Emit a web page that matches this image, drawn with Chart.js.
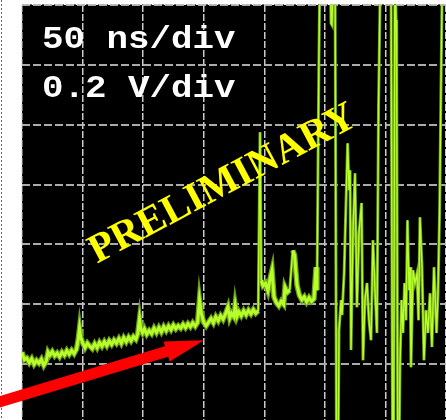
<!DOCTYPE html>
<html>
<head>
<meta charset="utf-8">
<script src="https://cdn.jsdelivr.net/npm/chart.js@4/dist/chart.umd.min.js"></script>
<style>
    html, body { margin: 0; padding: 0; background: #fff; overflow: hidden; }
    #wrap { position: relative; width: 446px; height: 426px; }
</style>
</head>
<body>
<div id="wrap"><canvas id="scope"></canvas></div>
<script>
// time axis in ns (50 ns/div), voltage in V (0.2 V/div)
const xTicks = [0, 50, 100, 150, 200, 250, 300, 350]
const yTicks = [-0.2, 0, 0.2, 0.4, 0.6, 0.8, 1.0, 1.2]

const timeLabel = '50 ns/div'
const voltLabel = '0.2 V/div'
const stampText = 'PRELIMINARY'

// trace: time (ns)
const traceT = [
    0, 2, 4, 6, 8, 10, 12, 14, 16, 18, 20,
    21.5, 23, 25, 27, 29, 31, 33, 35, 37, 39, 41, 43, 45,
    46.5, 47.5, 48.5, 50, 52, 54, 56, 58, 60, 62, 64, 66, 68, 70, 72, 74, 76, 78, 80, 82, 84, 86, 88, 90, 92, 94,
    95.5, 97, 98, 99.5, 101, 103, 105, 107, 109, 111, 113, 115, 117, 119, 121, 123, 125, 127, 129, 131, 133, 135, 137, 139, 141, 143, 145,
    146.5, 148, 150, 152, 154, 156, 158, 160, 162, 164, 166, 168, 170, 171.5, 173, 175, 176, 177.5, 179, 181, 183, 185, 187, 189, 191, 193, 195,
    196.5, 197.5, 199, 201, 203, 205, 206.4, 208, 210, 212, 214, 216, 217.1, 219, 221, 223.5, 225, 227, 229, 231, 233, 235, 237, 239, 241,
    242.7, 243.5, 244.3, 245, 246, 254.3, 255.1, 255.9, 256.8, 258.4, 259.6, 260.9,
    261.7, 263.4, 264.2, 265.9, 267.5, 268.8, 270, 270.8, 271.6, 273.2, 274.9, 276.5, 278.2, 280.3, 281.5, 283.1, 284.8, 286.4, 288.1,
    289.7, 291.4, 293, 294.3, 296, 304.6, 305.9, 306.8, 307.8, 308.8, 309.3, 310.2, 311.2,
    312, 313.3, 314.5, 315.8, 317, 318.2, 319.5, 320.3, 321.1, 322.8, 324.4, 326.1, 327.3, 328.5, 330.2, 331.8, 333.5, 335.1, 336.8,
    338.4, 340.1, 342.2, 343.4, 344.7, 345.9, 347.1, 350
]

// trace: voltage (V)
const traceV = [
    0.04, 0.015, 0.02, 0.005, 0.018, 0.0, 0.012, 0.003, 0.016, -0.004, 0.01,
    0.04, 0.03, 0.042, 0.028, 0.037, 0.025, 0.04, 0.03, 0.045, 0.033, 0.046, 0.035, 0.05,
    0.085, 0.12, 0.09, 0.072, 0.055, 0.07, 0.06, 0.052, 0.068, 0.055, 0.072, 0.06, 0.075, 0.062, 0.078, 0.066, 0.08, 0.07, 0.085, 0.07, 0.088, 0.075, 0.09, 0.078, 0.092, 0.083,
    0.1, 0.15, 0.118, 0.105, 0.118, 0.1, 0.112, 0.102, 0.12, 0.106, 0.122, 0.108, 0.125, 0.112, 0.127, 0.115, 0.13, 0.118, 0.128, 0.12, 0.133, 0.122, 0.135, 0.125, 0.138, 0.127, 0.14,
    0.215, 0.17, 0.14, 0.128, 0.14, 0.152, 0.138, 0.158, 0.145, 0.162, 0.15, 0.168, 0.19, 0.155, 0.17, 0.158, 0.197, 0.16, 0.175, 0.162, 0.178, 0.165, 0.18, 0.168, 0.182, 0.17, 0.178,
    0.775, 0.28, 0.262, 0.27, 0.245, 0.29, 0.314, 0.225, 0.205, 0.195, 0.21, 0.2, 0.257, 0.24, 0.248, 0.38, 0.364, 0.264, 0.23, 0.215, 0.225, 0.208, 0.222, 0.21, 0.218,
    0.324, 0.247, 0.638, 0.98, 1.35, 1.35, 1.139, 1.133, 1.35, 1.35, -0.32, -0.32,
    0.114, 0.214, 0.164, 0.304, 0.548, 0.738, 0.581, 0.648, 0.047, 0.438, 0.638, 0.19, 0.438, 0.538, 0.013, 0.214, 0.271, 0.147, 0.08,
    0.414, 0.247, 0.104, 0.859, 1.35, 1.35, -0.32, -0.32, 1.35, 1.15, 0.939, -0.32, -0.32,
    -0.01, 0.214, 0.104, 0.271, 0.147, 0.481, 0.247, 0.324, -0.01, 0.314, 0.271, 0.304, 0.147, 0.491, 0.324, 0.013, 0.18, 0.104, 0.237,
    0.057, 0.324, 0.104, 0.237, 0.505, 0.939, 1.35, 1.35
]

// red arrow annotation: tail and tip in (ns, V)
const arrowTail = [-20, -0.128]
const arrowTip = [150.2, 0.08]

const points = traceT.map((t, i) => ({ x: t, y: traceV[i] }))

// noisy baseline is drawn thick, fast swings thin
const isNoise = c => c.p0.parsed.x < 244 && Math.abs(c.p1.parsed.y - c.p0.parsed.y) < 0.12

const screenPlugin = {
    id: 'screen',
    beforeDraw(chart) {
        const { ctx, chartArea: a } = chart
        ctx.save()
        ctx.fillStyle = '#fff'
        ctx.fillRect(0, 0, chart.width, chart.height)
        ctx.fillStyle = '#000'
        ctx.fillRect(a.left, a.top, a.right - a.left, a.bottom - a.top)
        ctx.strokeStyle = '#666'
        ctx.lineWidth = 1
        ctx.setLineDash([2, 2])
        ctx.beginPath()
        ctx.moveTo(1.5, 0)
        ctx.lineTo(1.5, chart.height)
        ctx.moveTo(a.left, a.top - 0.5)
        ctx.lineTo(a.right, a.top - 0.5)
        ctx.stroke()
        ctx.restore()
    },
    afterDraw(chart) {
        const { ctx, chartArea: a } = chart
        const xs = chart.scales.x
        const ys = chart.scales.y

        // scope readout text
        ctx.save()
        ctx.fillStyle = '#fff'
        ctx.font = 'bold 32px "Liberation Mono", monospace'
        ctx.textBaseline = 'alphabetic'
        ctx.translate(a.left + 20, a.top + 43)
        ctx.scale(1.12, 1)
        ctx.fillText(timeLabel, 0, 0)
        ctx.fillText(voltLabel, 0, 49)
        ctx.restore()

        // PRELIMINARY stamp
        ctx.save()
        ctx.translate(xs.getPixelForValue(166), ys.getPixelForValue(0.6))
        ctx.rotate(-28 * Math.PI / 180)
        ctx.fillStyle = '#ffff00'
        ctx.font = 'bold 41px "Liberation Serif", serif'
        ctx.textAlign = 'center'
        ctx.textBaseline = 'middle'
        ctx.fillText(stampText, 0, 0)
        ctx.restore()

        // red arrow
        const x0 = xs.getPixelForValue(arrowTail[0])
        const y0 = ys.getPixelForValue(arrowTail[1])
        const x1 = xs.getPixelForValue(arrowTip[0])
        const y1 = ys.getPixelForValue(arrowTip[1])
        const len = Math.hypot(x1 - x0, y1 - y0)
        const ux = (x1 - x0) / len, uy = (y1 - y0) / len
        const headLen = 39, headHalf = 10.5
        const bx = x1 - ux * headLen, by = y1 - uy * headLen
        ctx.save()
        ctx.strokeStyle = '#ff0000'
        ctx.fillStyle = '#ff0000'
        ctx.lineWidth = 11
        ctx.beginPath()
        ctx.moveTo(x0, y0)
        ctx.lineTo(bx + ux * 4, by + uy * 4)
        ctx.stroke()
        ctx.beginPath()
        ctx.moveTo(x1, y1)
        ctx.lineTo(bx - uy * headHalf, by + ux * headHalf)
        ctx.lineTo(bx + uy * headHalf, by - ux * headHalf)
        ctx.closePath()
        ctx.fill()
        ctx.restore()
    }
}

new Chart(document.getElementById('scope'), {
    type: 'line',
    data: {
        datasets: [
            {
                data: points,
                borderColor: '#b6ff2a',
                borderWidth: 1.4,
                pointRadius: 0,
                tension: 0,
                order: 0,
                segment: { borderWidth: c => isNoise(c) ? 3 : 1.4 }
            },
            {
                data: points,
                borderColor: '#6f9e1a',
                borderWidth: 3,
                pointRadius: 0,
                tension: 0,
                order: 1,
                segment: { borderWidth: c => isNoise(c) ? 5.5 : 3 }
            }
        ]
    },
    options: {
        responsive: true,
        maintainAspectRatio: false,
        animation: false,
        devicePixelRatio: 1,
        layout: { padding: { left: 22, top: 5, right: 0, bottom: 2 } },
        plugins: {
            legend: { display: false },
            tooltip: { enabled: false }
        },
        scales: {
            x: {
                type: 'linear',
                min: 0,
                max: 350,
                afterBuildTicks: s => { s.ticks = xTicks.map(v => ({ value: v })) },
                ticks: { display: false },
                grid: { color: 'rgba(225,225,225,0.9)', lineWidth: 1.5, drawTicks: false },
                border: { display: false, dash: [7, 2] }
            },
            y: {
                type: 'linear',
                min: -0.2,
                max: 1.2,
                afterBuildTicks: s => { s.ticks = yTicks.map(v => ({ value: v })) },
                ticks: { display: false },
                grid: { color: 'rgba(190,190,190,0.9)', lineWidth: 2, drawTicks: false },
                border: { display: false, dash: [8, 3] }
            }
        }
    },
    plugins: [screenPlugin]
})
</script>
</body>
</html>
